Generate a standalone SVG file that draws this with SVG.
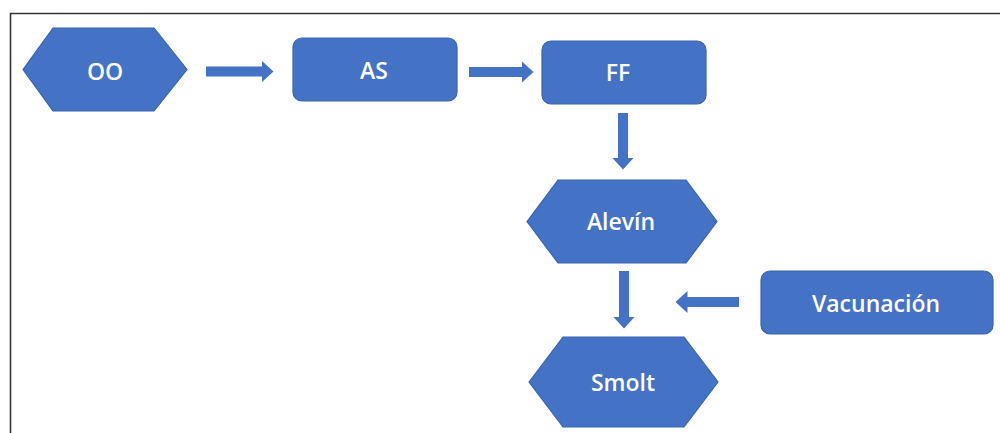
<svg xmlns="http://www.w3.org/2000/svg" width="1000" height="433" viewBox="0 0 1000 433">
  <defs>
    <style>
      .shape { fill: #4472C4; stroke: #3A64B0; stroke-width: 1.2; }
      .label { fill: #FFFFFF; font-family: "Open Sans", "Liberation Sans", sans-serif; font-size: 23px; font-weight: 600; text-anchor: middle; }
      .link { fill: none; stroke: #4472C4; stroke-width: 10; }
      .frame { fill: none; stroke: #333333; stroke-width: 1.6; }
    </style>
    <marker id="head" viewBox="0 0 12 22" markerWidth="12" markerHeight="22" refX="0.5" refY="11" markerUnits="userSpaceOnUse" orient="auto">
      <path d="M0,0 L12,11 L0,22 Z" fill="#4472C4"/>
    </marker>
  </defs>

  <rect width="1000" height="433" fill="#FFFFFF"/>

  <!-- frame -->
  <path class="frame" d="M10.5,433 L10.5,13.5 L1000,13.5"/>

  <!-- connectors -->
  <g id="connectors">
    <path class="link" d="M206,71.5 L262,71.5" marker-end="url(#head)"/>
    <path class="link" d="M469,72 L522,72" marker-end="url(#head)"/>
    <path class="link" d="M623,113 L623,158" marker-end="url(#head)"/>
    <path class="link" d="M624,271 L624,317" marker-end="url(#head)"/>
    <path class="link" d="M739,302 L687,302" marker-end="url(#head)"/>
  </g>

  <g id="node-oo">
    <polygon class="shape" points="23,69.5 53,28 154,28 187,69.5 154,111 53,111"/>
    <text class="label" x="105" y="79.5">OO</text>
  </g>

  <g id="node-as">
    <rect class="shape" x="293" y="38" width="164" height="63" rx="9"/>
    <text class="label" x="374" y="79">AS</text>
  </g>

  <g id="node-ff">
    <rect class="shape" x="542" y="41" width="164" height="63" rx="9"/>
    <text class="label" x="618" y="81">FF</text>
  </g>

  <g id="node-alevin">
    <polygon class="shape" points="527,221.5 558,180 686,180 717,221.5 686,263 558,263"/>
    <text class="label" x="621" y="229.5">Alevín</text>
  </g>

  <g id="node-vacunacion">
    <rect class="shape" x="761" y="271" width="232" height="63" rx="9"/>
    <text class="label" x="876" y="312">Vacunación</text>
  </g>

  <g id="node-smolt">
    <polygon class="shape" points="529,382 563,337 684,337 718,382 684,427 563,427"/>
    <text class="label" x="623" y="390.5">Smolt</text>
  </g>
</svg>
